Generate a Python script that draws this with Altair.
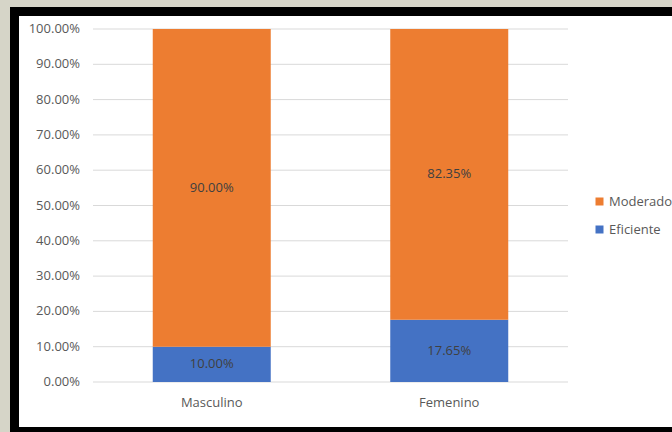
import altair as alt
import pandas as pd

# Share of each level by sex (stacked to 100%)
sexes = ["Masculino", "Femenino"]
levels = ["Moderado", "Eficiente"]
eficiente = [0.10, 0.1765]
moderado = [0.90, 0.8235]
grid_ticks = [i / 10 for i in range(11)]

rows = []
for s, e, m in zip(sexes, eficiente, moderado):
    rows.append({"sexo": s, "nivel": "Eficiente", "valor": e,
                 "start": 0.0, "end": e})
    rows.append({"sexo": s, "nivel": "Moderado", "valor": m,
                 "start": e, "end": e + m})
df = pd.DataFrame(rows)
df["mid"] = (df["start"] + df["end"]) / 2
df["label"] = df["valor"].map(lambda v: f"{v * 100:.2f}%")

grid_df = pd.DataFrame({"t": grid_ticks})
grid_df["tick_label"] = grid_df["t"].map(lambda v: f"{v * 100:.2f}%")

FONT = "Open Sans"
GREY = "#595959"

W, H = 475, 353
PAD = {"left": 93, "top": 29, "right": 104, "bottom": 50}

y_scale = alt.Scale(domain=[0, 1], nice=False, zero=True)
x_scale = alt.Scale(domain=sexes, paddingInner=0.5, paddingOuter=0.25)

# framed white panel with a thick black border
frame_black = alt.Chart(pd.DataFrame({"k": [0]})).mark_rect(
    color="black", clip=False
).encode(
    x=alt.value(10 - PAD["left"]), x2=alt.value(W + PAD["right"] + 20),
    y=alt.value(7 - PAD["top"]), y2=alt.value(H + PAD["bottom"] + 20),
)
frame_white = alt.Chart(pd.DataFrame({"k": [0]})).mark_rect(
    color="white", clip=False
).encode(
    x=alt.value(19 - PAD["left"]), x2=alt.value(W + PAD["right"] + 20),
    y=alt.value(16 - PAD["top"]), y2=alt.value(427 - PAD["top"]),
)

# horizontal gridlines and their percentage labels
grid = alt.Chart(grid_df).mark_rule(color="#d9d9d9", strokeWidth=1).encode(
    y=alt.Y("t:Q", scale=y_scale, axis=None),
    x=alt.value(0), x2=alt.value(W),
)
tick_labels = alt.Chart(grid_df).mark_text(
    font=FONT, fontSize=13, color=GREY, align="right", baseline="middle",
    clip=False
).encode(
    y=alt.Y("t:Q", scale=y_scale, axis=None),
    x=alt.value(-13),
    text="tick_label:N",
)

bars = alt.Chart(df).mark_bar(size=118).encode(
    x=alt.X("sexo:N", scale=x_scale, sort=sexes,
            axis=alt.Axis(domain=False, ticks=False, labelAngle=0,
                          labelPadding=14, labelFont=FONT, labelFontSize=13,
                          labelColor=GREY, title=None, zindex=1)),
    y=alt.Y("start:Q", scale=y_scale, axis=None),
    y2="end:Q",
    color=alt.Color("nivel:N",
                    scale=alt.Scale(domain=levels, range=["#ED7D31", "#4472C4"]),
                    legend=alt.Legend(title=None, orient="none",
                                      legendX=500, legendY=166,
                                      symbolType="square", symbolSize=64,
                                      symbolStrokeWidth=0, labelFont=FONT,
                                      labelFontSize=13, labelColor=GREY,
                                      rowPadding=14, labelOffset=3)),
)

labels = alt.Chart(df).mark_text(font=FONT, fontSize=13, color="#404040").encode(
    x=alt.X("sexo:N", scale=x_scale, sort=sexes),
    y=alt.Y("mid:Q", scale=y_scale, axis=None),
    text="label:N",
)

chart = alt.layer(
    frame_black, frame_white, grid, tick_labels, bars, labels
).properties(
    width=W, height=H, padding=PAD,
    autosize=alt.AutoSizeParams(type="none"),
    background="#d6d5c8",
).configure_view(stroke=None)

chart.save("out.html", embed_options={"renderer": "svg", "actions": False})
